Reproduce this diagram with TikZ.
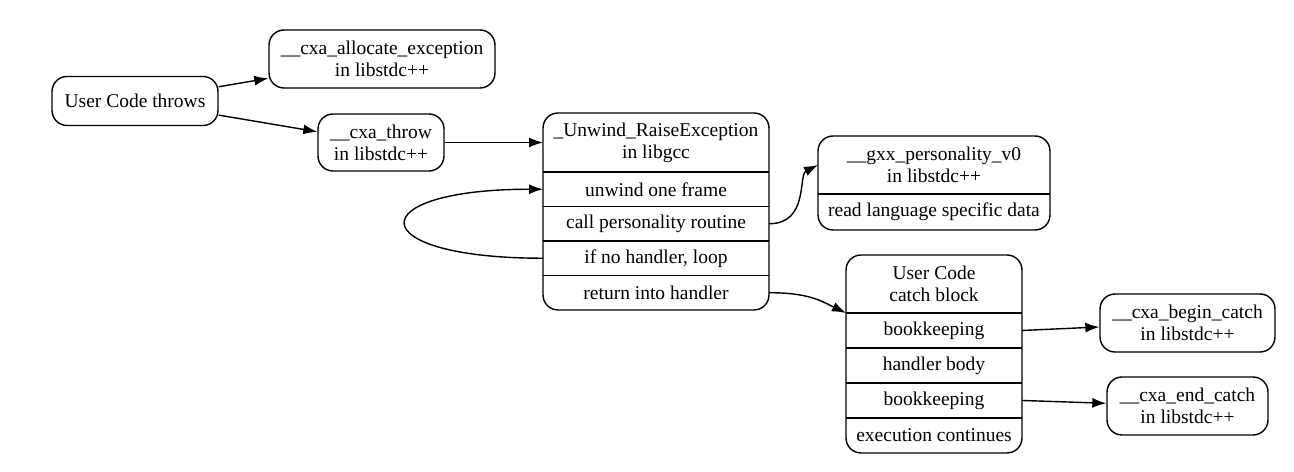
\documentclass[tikz,border=0pt]{standalone}
\usepackage{fontspec}
\setmainfont{Liberation Serif}
\usetikzlibrary{positioning,arrows.meta}

\tikzset{
  box/.style={draw, rounded corners=0.3cm, align=center, inner sep=0pt},
  cell/.style={align=center, inner sep=0pt, outer sep=0pt, minimum height=0.69cm},
}

\begin{document}
\begin{tikzpicture}[x=0.02cm, y=-0.02cm, line width=0.8pt,
    font=\fontsize{11.1}{12.5}\selectfont]
      \useasboundingbox (0,0) rectangle (1294,472);
      \draw
        (135,101) node[box, minimum width=3.32cm, minimum height=0.98cm] (0){User Code throws}
        (382,59) node[box, minimum width=4.52cm, minimum height=1.16cm] (1){\_\_cxa\_allocate\_exception\\in libstdc++}
        (381,142.5) node[box, minimum width=2.52cm, minimum height=1.14cm] (2){\_\_cxa\_throw\\in libstdc++}
        (1187.5,323) node[box, minimum width=3.5cm, minimum height=1.16cm] (6){\_\_cxa\_begin\_catch\\in libstdc++}
        (1187.5,406) node[box, minimum width=3.22cm, minimum height=1.16cm] (7){\_\_cxa\_end\_catch\\in libstdc++};
      % _Unwind_RaiseException record
      \path
        (656,142.5) node[cell, minimum width=4.52cm, minimum height=1.18cm] (3){\_Unwind\_RaiseException\\in libgcc}
        node[cell, minimum width=4.52cm, below=0pt of 3] (3a){unwind one frame}
        node[cell, minimum width=4.52cm, below=0pt of 3a] (3b){call personality routine}
        node[cell, minimum width=4.52cm, below=0pt of 3b] (3c){if no handler, loop}
        node[cell, minimum width=4.52cm, below=0pt of 3c] (3d){return into handler};
      \draw[rounded corners=0.3cm] (3.north west) rectangle (3d.south east);
      \foreach \r in {3a,3b,3c,3d}
        \draw (\r.north west) -- (\r.north east);
      % __gxx_personality_v0 record
      \path
        (934,165) node[cell, minimum width=4.64cm, minimum height=1.16cm] (4){\_\_gxx\_personality\_v0\\in libstdc++}
        node[cell, minimum width=4.64cm, minimum height=0.72cm, below=0pt of 4] (4a){read language specific data};
      \draw[rounded corners=0.3cm] (4.north west) rectangle (4a.south east);
      \draw (4a.north west) -- (4a.north east);
      % catch block record
      \path
        (934,284) node[cell, minimum width=3.52cm, minimum height=1.16cm] (5){User Code\\catch block}
        node[cell, minimum width=3.52cm, minimum height=0.7cm, below=0pt of 5] (5a){bookkeeping}
        node[cell, minimum width=3.52cm, minimum height=0.7cm, below=0pt of 5a] (5b){handler body}
        node[cell, minimum width=3.52cm, minimum height=0.7cm, below=0pt of 5b] (5c){bookkeeping}
        node[cell, minimum width=3.52cm, minimum height=0.7cm, below=0pt of 5c] (5d){execution continues};
      \draw[rounded corners=0.3cm] (5.north west) rectangle (5d.south east);
      \foreach \r in {5a,5b,5c,5d}
        \draw (\r.north west) -- (\r.north east);
      \begin{scope}[-{Latex[length=2.8mm,width=2mm]}]
        \draw (0) to (1);
        \draw (0) to (2);
        \draw (2) to (3);
        \draw (3c.west) .. controls +(-183,0) and +(-183,0) .. (3a.west);
        \draw (3b.east) .. controls +(40,0) and +(-20,10) .. (4.west);
        \draw (3d.east) .. controls +(40,0) and +(-25,-12) .. (5.south west);
        \draw (5a.east) to (6);
        \draw (5c.east) to (7);
      \end{scope}
    \end{tikzpicture}
\end{document}
